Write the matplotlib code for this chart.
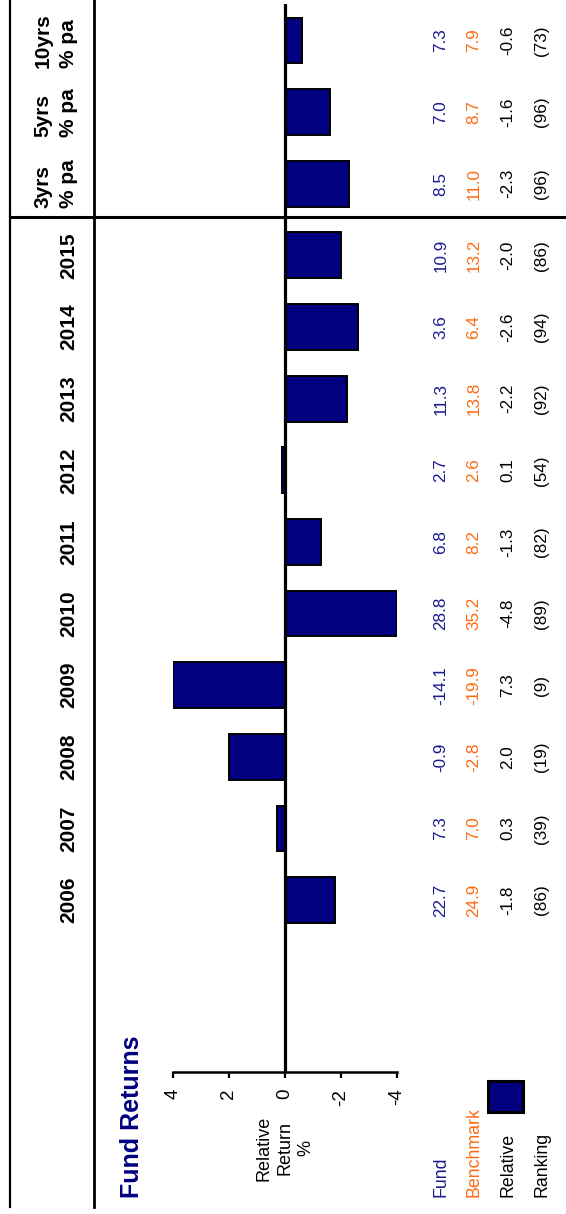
import matplotlib
matplotlib.use("Agg")
import matplotlib.pyplot as plt
import numpy as np
from matplotlib.lines import Line2D
from matplotlib.patches import Rectangle
from matplotlib.transforms import blended_transform_factory

plt.rcParams['font.family'] = ['Liberation Sans', 'DejaVu Sans']
plt.rcParams['axes.unicode_minus'] = False

# ---- data ----
categories = ['2006', '2007', '2008', '2009', '2010', '2011', '2012', '2013',
              '2014', '2015', '3yrs\n% pa', '5yrs\n% pa', '10yrs\n% pa']
fund = [22.7, 7.3, -0.9, -14.1, 28.8, 6.8, 2.7, 11.3, 3.6, 10.9, 8.5, 7.0, 7.3]
benchmark = [24.9, 7.0, -2.8, -19.9, 35.2, 8.2, 2.6, 13.8, 6.4, 13.2, 11.0, 8.7, 7.9]
relative = [-1.8, 0.3, 2.0, 7.3, -4.8, -1.3, 0.1, -2.2, -2.6, -2.0, -2.3, -1.6, -0.6]
ranking = [86, 39, 19, 9, 89, 82, 54, 92, 94, 86, 96, 96, 73]
axis_ticks = [4, 2, 0, -2, -4]
row_labels = ['Fund', 'Benchmark', 'Relative', 'Ranking']
title = 'Fund Returns'
axis_label = 'Relative\nReturn\n%'

NAVY = '#000080'
FUNDC = '#1a1a8f'
ORANGE = '#ff6a10'

W, H = 566, 1214
fig = plt.figure(figsize=(W / 100, H / 100), dpi=100)

def fx(px):
    return px / W

def fy(py):
    return 1 - py / H

# main axes (rotated chart: bars horizontal, positive to the left)
ax_left, ax_right, ax_top, ax_bot = 173, 397, 4, 1072
ax = fig.add_axes([fx(ax_left), fy(ax_bot), fx(ax_right) - fx(ax_left), fy(ax_top) - fy(ax_bot)])
pos = np.arange(len(categories))
lim = 4
vals = np.clip(np.array(relative), -lim, lim)
ax.barh(pos, vals, height=0.64, color=NAVY, edgecolor='black', linewidth=1.4, zorder=2)
ax.axvline(0, color='black', lw=2.3, zorder=3)
ax.set_xlim(lim, -lim)
ax.set_ylim(-2.40, 12.51)
for s in ['top', 'left', 'right']:
    ax.spines[s].set_visible(False)
ax.spines['bottom'].set_linewidth(1.8)
ax.set_xticks(axis_ticks)
ax.set_xticklabels([f'{t:d}' for t in axis_ticks], rotation=90, fontsize=13.5)
ax.tick_params(axis='x', direction='out', length=4, width=1.6, pad=8)
ax.set_yticks([])
ax.patch.set_alpha(0)

# frame lines
fig.add_artist(Line2D([fx(10), fx(10)], [fy(0), fy(1207)], color='black', lw=1.6))
fig.add_artist(Line2D([fx(94), fx(94)], [fy(0), fy(1207)], color='black', lw=2.0))
fig.add_artist(Line2D([fx(10), fx(566)], [fy(217), fy(217)], color='black', lw=2.2))

tr = blended_transform_factory(fig.transFigure, ax.transData)

# category labels
for i, c in enumerate(categories):
    ax.text(fx(78), i, c, transform=tr, rotation=90, ha='right', va='center',
            multialignment='left', fontsize=15, fontweight='bold', color='black',
            linespacing=1.45)

# number columns
col_x = [441, 474, 508, 542]
for i in range(len(categories)):
    ax.text(fx(col_x[0]), i, f'{fund[i]:.1f}', transform=tr, rotation=90,
            ha='center', va='center', fontsize=12.3, color=FUNDC)
    ax.text(fx(col_x[1]), i, f'{benchmark[i]:.1f}', transform=tr, rotation=90,
            ha='center', va='center', fontsize=12.3, color=ORANGE)
    ax.text(fx(col_x[2]), i, f'{relative[i]:.1f}', transform=tr, rotation=90,
            ha='center', va='center', fontsize=12.3, color='black')
    ax.text(fx(col_x[3]), i, f'({ranking[i]})', transform=tr, rotation=90,
            ha='center', va='center', fontsize=12.3, color='black')

# row labels
row_colors = [FUNDC, ORANGE, 'black', 'black']
for lab, x, c in zip(row_labels, col_x, row_colors):
    fig.text(fx(x), fy(1197), lab, rotation=90, ha='center', va='bottom',
             fontsize=12.8, color=c)

# legend box
fig.add_artist(Rectangle((fx(488), fy(1112)), fx(523) - fx(488), fy(1081) - fy(1112),
                         transform=fig.transFigure, facecolor=NAVY, edgecolor='black', lw=2.2))

# title
fig.text(fx(132), fy(1198), title, rotation=90, ha='center', va='bottom',
         fontsize=18, fontweight='bold', color=NAVY)

# axis label
fig.text(fx(285), fy(1148), axis_label, rotation=90, ha='center', va='center',
         multialignment='center', fontsize=13, color='black', linespacing=1.3)

fig.savefig('out.png', dpi=100)
